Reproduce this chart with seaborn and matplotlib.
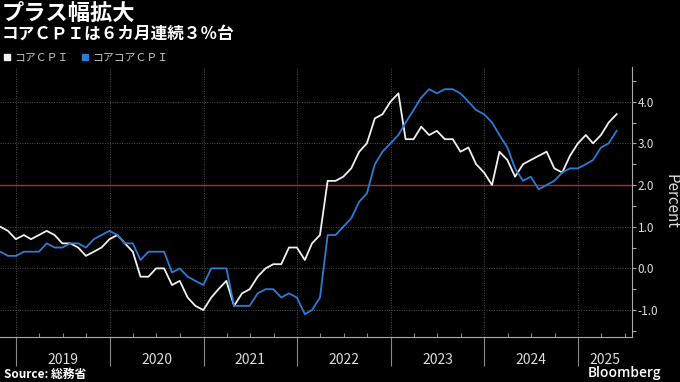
import pandas as pd
import numpy as np
import seaborn as sns
import matplotlib.pyplot as plt
import matplotlib.dates as mdates
from matplotlib.lines import Line2D
from matplotlib.ticker import MultipleLocator, NullFormatter, FuncFormatter

# Monthly y/y change (%), Oct 2018 - May 2025 (plotted at month end)
months = pd.date_range('2018-11-01', periods=80, freq='MS') - pd.Timedelta(days=1)

core_cpi = [
    1.0, 0.9, 0.7,
    0.8, 0.7, 0.8, 0.9, 0.8, 0.6, 0.6, 0.5, 0.3, 0.4, 0.5, 0.7,
    0.8, 0.6, 0.4, -0.2, -0.2, 0.0, 0.0, -0.4, -0.3, -0.7, -0.9, -1.0,
    -0.7, -0.5, -0.3, -0.9, -0.6, -0.5, -0.2, 0.0, 0.1, 0.1, 0.5, 0.5,
    0.2, 0.6, 0.8, 2.1, 2.1, 2.2, 2.4, 2.8, 3.0, 3.6, 3.7, 4.0,
    4.2, 3.1, 3.1, 3.4, 3.2, 3.3, 3.1, 3.1, 2.8, 2.9, 2.5, 2.3,
    2.0, 2.8, 2.6, 2.2, 2.5, 2.6, 2.7, 2.8, 2.4, 2.3, 2.7, 3.0,
    3.2, 3.0, 3.2, 3.5, 3.7,
]
core_core_cpi = [
    0.4, 0.3, 0.3,
    0.4, 0.4, 0.4, 0.6, 0.5, 0.5, 0.6, 0.6, 0.5, 0.7, 0.8, 0.9,
    0.8, 0.6, 0.6, 0.2, 0.4, 0.4, 0.4, -0.1, 0.0, -0.2, -0.3, -0.4,
    0.0, 0.0, 0.0, -0.9, -0.9, -0.9, -0.6, -0.5, -0.5, -0.7, -0.6, -0.7,
    -1.1, -1.0, -0.7, 0.8, 0.8, 1.0, 1.2, 1.6, 1.8, 2.5, 2.8, 3.0,
    3.2, 3.5, 3.8, 4.1, 4.3, 4.2, 4.3, 4.3, 4.2, 4.0, 3.8, 3.7,
    3.5, 3.2, 2.9, 2.4, 2.1, 2.2, 1.9, 2.0, 2.1, 2.3, 2.4, 2.4,
    2.5, 2.6, 2.9, 3.0, 3.3,
]
series_names = ['コアＣＰＩ', 'コアコアＣＰＩ']
series_colors = ['#f0f0f0', '#2b7cd3']
years = [2019, 2020, 2021, 2022, 2023, 2024, 2025]
target = 2.0

plt.rcParams['font.family'] = ['Noto Sans CJK JP', 'DejaVu Sans']
plt.rcParams['axes.unicode_minus'] = False

df = pd.DataFrame({
    'date': list(months) * 2,
    'value': core_cpi + core_core_cpi,
    'series': [series_names[0]] * len(months) + [series_names[1]] * len(months),
})

fig = plt.figure(figsize=(6.8, 3.82), dpi=100, facecolor='black')
ax = fig.add_axes([0, 0.1186, 0.9294, 0.7068], facecolor='black')

ax.axhline(target, color='#c21f30', lw=1.0, zorder=1)
sns.lineplot(data=df, x='date', y='value', hue='series', hue_order=series_names,
             palette=dict(zip(series_names, series_colors)), lw=1.3,
             legend=False, ax=ax, zorder=3)

x0, x1 = pd.Timestamp('2018-10-30'), pd.Timestamp('2025-07-30')
ax.set_xlim(x0, x1)
ax.set_ylim(-1.64, 4.84)
ax.set_xlabel('')
ax.set_ylabel('')

# y axis on the right
ax.yaxis.tick_right()
ax.yaxis.set_major_locator(MultipleLocator(1))
ax.yaxis.set_minor_locator(MultipleLocator(0.5))
ax.yaxis.set_major_formatter(FuncFormatter(lambda v, p: f'{v:.1f}'))
ax.tick_params(axis='y', which='both', direction='out', length=3, width=0.8,
               color='#aaaaaa', labelcolor='#dddddd', labelsize=8.5, pad=1)

# x axis: long year separators, quarterly small ticks
ax.xaxis.set_major_locator(mdates.YearLocator())
ax.xaxis.set_major_formatter(NullFormatter())
ax.xaxis.set_minor_locator(mdates.MonthLocator(bymonth=[1, 4, 7, 10]))
ax.xaxis.set_minor_formatter(NullFormatter())
ax.tick_params(axis='x', which='major', direction='out', length=21, width=0.8, color='#888888')
ax.tick_params(axis='x', which='minor', direction='in', length=3, width=0.8, color='#888888')

for s in ['top', 'left']:
    ax.spines[s].set_visible(False)
for s in ['right', 'bottom']:
    ax.spines[s].set_color('#aaaaaa')
    ax.spines[s].set_linewidth(0.8)

ax.grid(True, which='major', color='#505050', linestyle=(0, (1, 1.5)), lw=0.7)
ax.set_axisbelow(True)

# year labels centred on the visible part of each year
mids = []
for y in years:
    a = max(pd.Timestamp(f'{y}-01-01'), x0)
    b = min(pd.Timestamp(f'{y + 1}-01-01'), x1)
    mids.append(mdates.date2num(a + (b - a) / 2))
sec = ax.secondary_xaxis('bottom')
sec.set_xticks(mids)
sec.set_xticklabels([str(y) for y in years])
sec.tick_params(length=0, pad=12, labelsize=10, labelcolor='#dddddd')
sec.spines['bottom'].set_visible(False)

fig.text(671 / 680, 1 - 202 / 382, 'Percent', rotation=270, ha='center', va='center',
         fontsize=11, color='#dddddd')

# legend
handles = [Line2D([], [], marker='s', ls='none', color=c, markersize=4.5) for c in series_colors]
fig.legend(handles=handles, labels=series_names, loc='center left',
           bbox_to_anchor=(0.0, 1 - 58 / 382), ncol=2, frameon=False, fontsize=7.8,
           labelcolor='#c8c8c8', handlelength=0.8, handletextpad=0.3,
           columnspacing=1.1, borderaxespad=0, borderpad=0.2)

fig.text(0.003, 1 - 13 / 382, 'プラス幅拡大', fontsize=16, weight='bold',
         color='white', va='center', ha='left')
fig.text(0.003, 1 - 34 / 382, 'コアＣＰＩは６カ月連続３％台', fontsize=12, weight='bold',
         color='white', va='center', ha='left')
fig.text(0.006, 1 - 374 / 382, 'Source: 総務省', fontsize=8.5, weight='bold',
         color='white', va='center', ha='left')
fig.text(661 / 680, 1 - 373 / 382, 'Bloomberg', fontsize=10, weight='semibold',
         color='white', va='center', ha='right', family=['Open Sans', 'DejaVu Sans'])

fig.savefig('out.png', dpi=100, facecolor='black')
